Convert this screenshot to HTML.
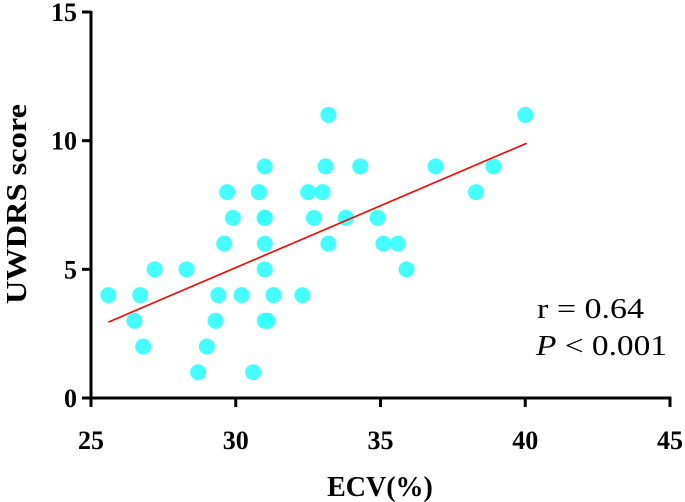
<!DOCTYPE html>
<html><head><meta charset="utf-8"><style>
body{margin:0;background:#fff;}
svg{display:block;font-family:"Liberation Serif",serif;}
</style></head><body>
<svg id="chart" width="685" height="502">
<g id="axes"></g><g id="pts"></g><g id="fit"></g>
<text x="537" y="318" font-size="29" textLength="107" lengthAdjust="spacingAndGlyphs">r = 0.64</text>
<text x="536" y="355" font-size="29" textLength="131" lengthAdjust="spacingAndGlyphs"><tspan font-style="italic">P</tspan> &lt; 0.001</text>
<text x="380" y="496" font-size="28" font-weight="bold" text-anchor="middle">ECV(%)</text>
<text transform="translate(26,204) rotate(-90)" font-size="29" font-weight="bold" text-anchor="middle" textLength="200" lengthAdjust="spacingAndGlyphs">UWDRS score</text>
</svg>
<script>
const xVals=[25.6,26.5,26.7,26.8,27.2,28.3,28.7,29.0,29.3,29.4,29.6,29.7,29.9,30.2,30.6,30.8,31.0,31.0,31.0,31.0,31.0,31.0,31.1,31.3,32.3,32.5,32.7,33.0,33.1,33.2,33.2,33.8,34.3,34.9,35.1,35.6,35.9,36.9,38.3,38.9,40.0];
const yVals=[4,3,4,2,5,5,1,2,3,4,6,8,7,4,1,8,7,7,6,5,9,3,3,4,4,8,7,8,9,6,11,7,9,7,6,6,5,9,8,9,11];
const xTicks=[25,30,35,40,45];
const yTicks=[0,5,10,15];
const fitX=[25.6,40.05];
const fitY=[2.95,9.9];
const NS="http://www.w3.org/2000/svg";
const X0=91,X1=670,Y0=398,Y1=12;
const sx=v=>X0+(v-25)/20*(X1-X0);
const sy=v=>Y0-v/15*(Y0-Y1);
function mk(t,a,p){const e=document.createElementNS(NS,t);for(const k in a)e.setAttribute(k,a[k]);p.appendChild(e);return e;}
const ax=document.getElementById('axes');
let l=mk('line',{x1:X0,y1:Y0,x2:X1+1.5,y2:Y0,stroke:'#000','stroke-width':3},ax);


l=mk('line',{x1:X0,y1:Y1-1,x2:X0,y2:Y0+1.5,stroke:'#000','stroke-width':3},ax);


xTicks.forEach(t=>{mk('line',{x1:sx(t),y1:Y0,x2:sx(t),y2:Y0+9,stroke:'#000','stroke-width':3},ax);
const tx=mk('text',{x:sx(t),y:Y0+51,'font-size':26,'font-weight':'bold','text-anchor':'middle'},ax);tx.textContent=t;

});
yTicks.forEach(t=>{mk('line',{x1:X0-9,y1:sy(t),x2:X0,y2:sy(t),stroke:'#000','stroke-width':3},ax);
const tx=mk('text',{x:X0-14,y:sy(t)+9,'font-size':26,'font-weight':'bold','text-anchor':'end'},ax);tx.textContent=t;

});
const pg=document.getElementById('pts');
xVals.forEach((x,i)=>{const c=mk('circle',{cx:sx(x),cy:sy(yVals[i]),r:8,fill:'#33FFFF','fill-opacity':0.92},pg);

});
const f=mk('line',{x1:sx(fitX[0]),y1:sy(fitY[0]),x2:sx(fitX[1]),y2:sy(fitY[1]),stroke:'#ff0000','stroke-width':1.6},document.getElementById('fit'));


</script>
</body></html>
